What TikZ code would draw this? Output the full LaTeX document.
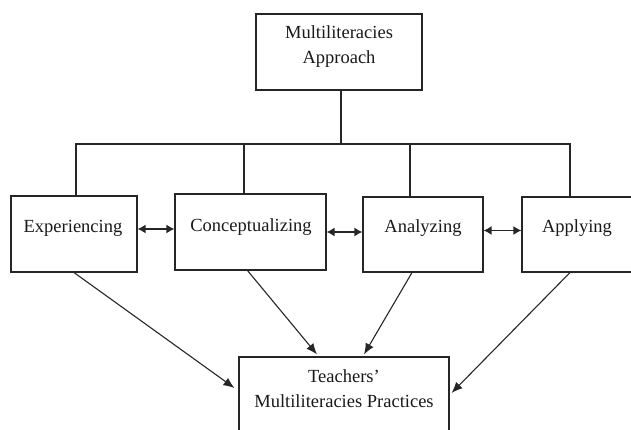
\documentclass[tikz,border=0pt]{standalone}
\usepackage{fontspec}
\setmainfont{Liberation Serif}
\usetikzlibrary{arrows.meta}
\begin{document}
\begin{tikzpicture}[x=1pt,y=-1pt,
  box/.style={draw=black!85, line width=1.1pt, inner sep=0pt},
  lbl/.style={font=\fontsize{18.5}{25}\selectfont, align=center, inner sep=0pt, text=black!90},
  ln/.style={draw=black!85, line width=1.1pt},
  dbl/.style={ln, line width=1.5pt, {Latex[length=8pt,width=9pt]}-{Latex[length=8pt,width=9pt]}},
  arr/.style={ln, -{Latex[length=11pt,width=9pt]}}]
\useasboundingbox (0,0) rectangle (631,430);
% boxes
\node[box, minimum width=166pt, minimum height=76pt] (top) at (339,52) {};
\node[box, minimum width=126pt, minimum height=76pt] (exp) at (74,234) {};
\node[box, minimum width=151pt, minimum height=76pt] (con) at (250.5,232) {};
\node[box, minimum width=120pt, minimum height=75pt] (ana) at (423,234.5) {};
\node[box, minimum width=118pt, minimum height=75pt] (app) at (581,234.5) {};
\node[box, minimum width=210pt, minimum height=83pt] (bot) at (344,398.5) {};
% labels
\node[lbl] (ttop) at (339,47) {Multiliteracies\\Approach};
\node[lbl] (texp) at (73,228) {Experiencing};
\node[lbl] (tcon) at (251,227) {Conceptualizing};
\node[lbl] (tana) at (423,228) {Analyzing};
\node[lbl] (tapp) at (577,228) {Applying};
\node[lbl] (tbot) at (344,389) {Teachers’\\Multiliteracies Practices};
% tree
\coordinate (bar) at (0,144);
\draw[ln] ([xshift=2pt]top.south) -- ([xshift=2pt]top.south |- bar);
\draw[ln] ([xshift=2pt]exp.north) -- ([xshift=2pt]exp.north |- bar)
  -- ([xshift=-11pt]app.north |- bar) -- ([xshift=-11pt]app.north);
\draw[ln] ([xshift=-6.5pt]con.north |- bar) -- ([xshift=-6.5pt]con.north);
\draw[ln] ([xshift=-13pt]ana.north |- bar) -- ([xshift=-13pt]ana.north);
% double arrows
\draw[dbl] ([yshift=5pt]exp.east) -- ([yshift=5pt]exp.east -| con.west);
\draw[dbl] ([yshift=0pt]con.east) -- ([yshift=0pt]con.east -| ana.west);
\draw[dbl] ([yshift=4pt]ana.east) -- ([yshift=4pt]ana.east -| app.west);
% diagonal arrows
\draw[arr] (exp.south) -- ([xshift=-4pt,yshift=10.5pt]bot.west);
\draw[arr] ([xshift=-3pt]con.south) -- ([xshift=-27pt,yshift=2pt]bot.north);
\draw[arr] ([xshift=-11pt]ana.south) -- ([xshift=20pt,yshift=2pt]bot.north);
\draw[arr] ([xshift=-11pt]app.south) -- ([xshift=2pt,yshift=5.5pt]bot.east);
\end{tikzpicture}
\end{document}
